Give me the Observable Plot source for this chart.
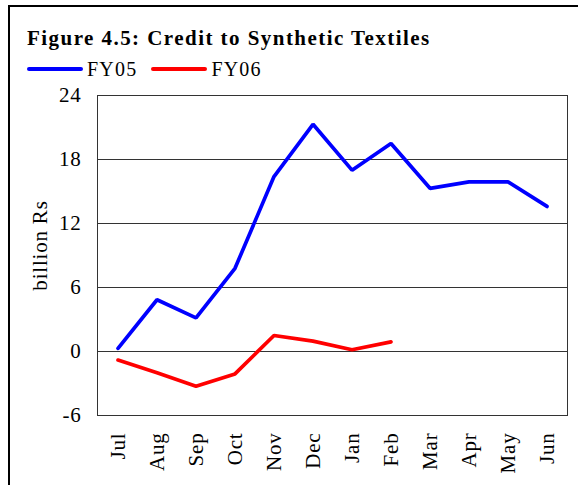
<!DOCTYPE html>
<html>
<head>
<meta charset="utf-8">
<script src="https://cdn.jsdelivr.net/npm/d3@7"></script>
<script src="https://cdn.jsdelivr.net/npm/@observablehq/plot@0.6"></script>
<style>
  html, body { margin: 0; padding: 0; background: #fff; }
  #wrap { position: relative; width: 578px; height: 485px; overflow: hidden; font-family: "Liberation Serif", "Times New Roman", serif; color: #000; }
  #border { position: absolute; left: 8px; top: 5px; width: 600px; height: 600px; border-left: 2.5px solid #000; border-top: 2.5px solid #000; box-sizing: border-box; }
  #title { position: absolute; left: 27px; top: 26px; font-size: 21px; font-weight: bold; letter-spacing: 1.45px; white-space: nowrap; line-height: 24px; }
  #legend { position: absolute; left: 27px; top: 57px; font-size: 20px; letter-spacing: 1.2px; line-height: 24px; white-space: nowrap; display: flex; align-items: center; }
  .sw { display: inline-block; width: 56px; height: 4px; border-radius: 2px; margin-right: 4px; }
  .item { display: inline-flex; align-items: center; margin-right: 14px; }
  #chart { position: absolute; left: 0; top: 80px; }
</style>
</head>
<body>
<div id="wrap">
  <div id="border"></div>
  <div id="title">Figure 4.5: Credit to Synthetic Textiles</div>
  <div id="legend"></div>
  <div id="chart"></div>
</div>
<script>
const months = ["Jul","Aug","Sep","Oct","Nov","Dec","Jan","Feb","Mar","Apr","May","Jun"];
const fy05 = [0.3, 4.85, 3.15, 7.8, 16.4, 21.3, 17.0, 19.5, 15.3, 15.9, 15.9, 13.6];
const fy06 = [-0.8, -2.0, -3.25, -2.1, 1.5, 0.97, 0.16, 0.9];
const seriesNames = ["FY05", "FY06"];
const seriesColors = ["#0000ff", "#ff0000"];
const yTicks = [-6, 0, 6, 12, 18, 24];
const gridValues = [0, 6, 12, 18];
const yLabel = "billion Rs";

const rows = [];
fy05.forEach((v, i) => rows.push({month: months[i], value: v, series: seriesNames[0]}));
fy06.forEach((v, i) => rows.push({month: months[i], value: v, series: seriesNames[1]}));

const legend = document.getElementById("legend");
seriesNames.forEach((n, i) => {
  const it = document.createElement("span");
  it.className = "item";
  it.innerHTML = `<span class="sw" style="background:${seriesColors[i]}"></span>${n}`;
  legend.appendChild(it);
});

const chart = Plot.plot({
  width: 578,
  height: 405,
  marginTop: 15,
  marginBottom: 70,
  marginLeft: 97,
  marginRight: 11,
  style: {fontFamily: "'Liberation Serif', 'Times New Roman', serif", fontSize: "21px", color: "#000", background: "transparent"},
  x: {type: "band", domain: months, padding: 0},
  y: {domain: [-6, 24], ticks: yTicks},
  color: {domain: seriesNames, range: seriesColors},
  marks: [
    Plot.ruleY(gridValues, {stroke: "#333", strokeWidth: 1}),
    Plot.frame({stroke: "#333", strokeWidth: 1}),
    Plot.axisY({ticks: yTicks, tickFormat: d => String(d), tickSize: 0, tickPadding: 16, fontSize: 21, label: null}),
    Plot.axisX({tickSize: 0, tickPadding: 17, tickRotate: -90, fontSize: 21, label: null}),
    Plot.text([yLabel], {frameAnchor: "left", rotate: -90, dx: -57, dy: -10, fontSize: 21, textAnchor: "middle"}),
    Plot.line(rows, {x: "month", y: "value", z: "series", stroke: "series", strokeWidth: 3.7, strokeLinejoin: "miter"})
  ]
});
d3.select(chart).selectAll("text")
  .style("font-size", "21px")
  .style("letter-spacing", "0.8px")
  .style("font-family", "'Liberation Serif', serif")
  .attr("fill", "#000");
document.getElementById("chart").appendChild(chart);
</script>
</body>
</html>
